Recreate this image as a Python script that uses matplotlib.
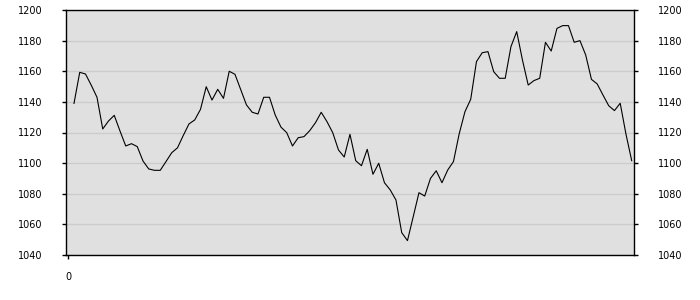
import matplotlib
matplotlib.use("Agg")
import matplotlib.pyplot as plt
import numpy as np

# index values, one per step (x = 1..98)
values = [
    1139, 1159.3, 1158.2, 1150.9, 1143, 1122.3, 1127.5, 1131.2, 1121, 1111.2,
    1112.7, 1110.8, 1101.4, 1096.2, 1095.3, 1095.3, 1101, 1106.8, 1110, 1118,
    1125.6, 1128.2, 1135.1, 1149.9, 1141.2, 1148.2, 1142.3, 1160, 1158, 1148,
    1138, 1133.2, 1132.1, 1143, 1143, 1131.4, 1123.5, 1119.9, 1111.2, 1116.6,
    1117.3, 1121.2, 1126.4, 1133.2, 1127.1, 1119.9, 1108.6, 1104, 1118.8, 1101.6,
    1098.3, 1109, 1092.7, 1099.9, 1087.2, 1082.5, 1075.9, 1054.6, 1049.4, 1065,
    1080.7, 1078.5, 1090, 1095, 1087.2, 1095.5, 1101, 1119.2, 1133.6, 1141.7,
    1166.3, 1172.1, 1172.8, 1159.7, 1155.4, 1155.4, 1176.1, 1185.9, 1167.3, 1151,
    1153.9, 1155.4, 1178.9, 1173.2, 1188, 1189.8, 1189.8, 1178.9, 1180, 1170.6,
    1154.7, 1151.7, 1144.5, 1137.5, 1134.3, 1139.1, 1119, 1101.6,
]
x = np.arange(1, len(values) + 1)
y_ticks = [1040, 1060, 1080, 1100, 1120, 1140, 1160, 1180, 1200]
x_ticks = [0]

fig = plt.figure(figsize=(7, 3), dpi=100)
ax = fig.add_axes([66 / 700, 45 / 300, 568 / 700, 245 / 300])
ax.set_facecolor("#e0e0e0")

ax.plot(x, values, color="black", linewidth=0.8)

ax.set_ylim(1040, 1200)
ax.set_xlim(-0.39, 98.4)
ax.set_yticks(y_ticks)
ax.set_xticks(x_ticks)
ax.yaxis.grid(True, color="#cccccc", linewidth=1.0)
ax.set_axisbelow(True)

ax.tick_params(axis="y", which="both", left=True, right=True,
               labelleft=True, labelright=True, direction="out",
               length=3, width=1, pad=14, labelsize=7, colors="black")
ax.tick_params(axis="x", direction="out", length=3, width=1, pad=9,
               labelsize=7)
for side in ax.spines.values():
    side.set_color("black")
    side.set_linewidth(1.0)

fig.savefig("out.png", dpi=100)
